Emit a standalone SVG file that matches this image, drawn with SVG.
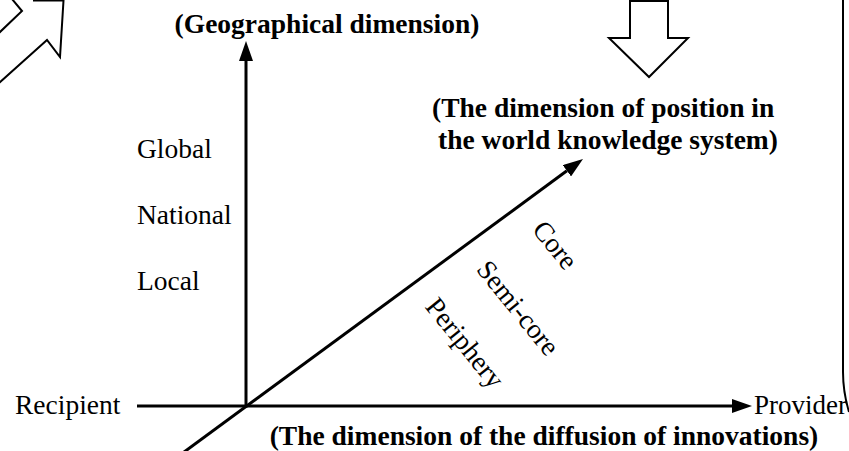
<svg xmlns="http://www.w3.org/2000/svg" width="849" height="451" viewBox="0 0 849 451">
<style>
.t{font-family:"Liberation Serif","Times New Roman",serif;font-size:27.5px;fill:#000}
.b{font-family:"Liberation Serif","Times New Roman",serif;font-size:27.5px;font-weight:bold;fill:#000}
.ax{stroke:#000;stroke-width:3;fill:none}
.ol{stroke:#000;stroke-width:2;fill:#fff;stroke-linejoin:miter}
</style>
<defs>
<marker id="ah" markerUnits="userSpaceOnUse" markerWidth="20" markerHeight="14" refX="0" refY="7" orient="auto" viewBox="0 0 20 14">
<path d="M0,0 L20,7 L0,14 z" fill="#000"/>
</marker>
</defs>
<g id="bigarrow-topleft">
<path class="ol" d="M-22,53 L22,11 L12,-1 M33,0.5 L63.5,0.5 L60,57 L47,40 L-10,91"/>
</g>
<g id="bigarrow-down">
<polygon class="ol" points="630,1 630,38 609,38 649,77 688,38 668,38 668,1"/>
</g>
<g id="right-border">
<path d="M843,0 L843,372 Q843,392 849,412" stroke="#000" stroke-width="2" fill="none"/>
</g>
<g id="connectors">
<line class="ax" x1="246" y1="407.5" x2="246" y2="61" marker-end="url(#ah)"/>
<line class="ax" x1="137" y1="406" x2="732" y2="406" marker-end="url(#ah)"/>
<line class="ax" x1="180" y1="455" x2="566.9" y2="170.8" marker-end="url(#ah)"/>
</g>
<g id="geo-label"><text class="b" x="327" y="33" text-anchor="middle">(Geographical dimension)</text></g>
<g id="position-label">
<text class="b" x="432" y="117">(The dimension of position in</text>
<text class="b" x="438" y="149">the world knowledge system)</text>
</g>
<g id="diffusion-label"><text class="b" x="544" y="445" text-anchor="middle">(The dimension of the diffusion of innovations)</text></g>
<g id="global"><text class="t" x="137" y="158">Global</text></g>
<g id="national"><text class="t" x="137" y="224">National</text></g>
<g id="local"><text class="t" x="137" y="290">Local</text></g>
<g id="recipient"><text class="t" x="15" y="414">Recipient</text></g>
<g id="provider"><text class="t" x="754" y="414" style="font-size:27px">Provider</text></g>
<g id="core"><text class="t" transform="translate(555,245) rotate(51)" x="0" y="9" text-anchor="middle">Core</text></g>
<g id="semicore"><text class="t" transform="translate(518,308) rotate(51)" x="0" y="9" text-anchor="middle">Semi-core</text></g>
<g id="periphery"><text class="t" transform="translate(465,343) rotate(51)" x="0" y="9" text-anchor="middle">Periphery</text></g>
</svg>
